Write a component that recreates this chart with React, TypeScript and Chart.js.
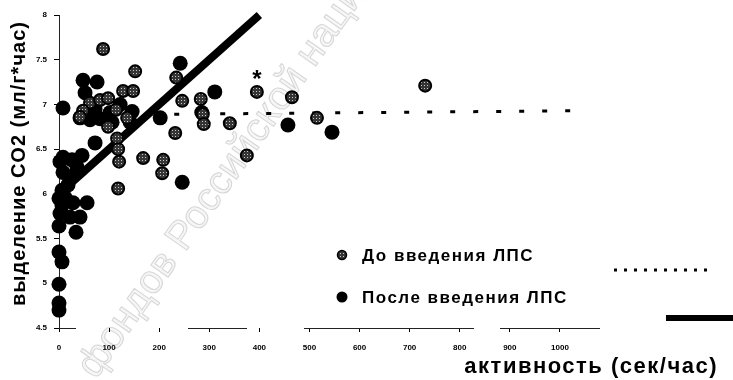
import { useEffect, useRef } from "react";
import { Chart, registerables } from "chart.js";

Chart.register(...registerables);

// Axis ticks
const xTickValues = [0, 100, 200, 300, 400, 500, 600, 700, 800, 900, 1000];
const yTickValues = [4.5, 5, 5.5, 6, 6.5, 7, 7.5, 8];

// Before LPS: activity (s/h) and CO2 release (ml/g*h)
const beforeX = [88, 152, 128, 148, 62, 82, 98, 48, 114, 136, 98, 116, 118, 120, 118, 168, 208, 206, 232, 234, 246, 283, 287, 289, 341, 395, 465, 515, 375, 731, 42];
const beforeY = [7.62, 7.37, 7.15, 7.15, 7.02, 7.05, 7.07, 6.93, 6.94, 6.85, 6.75, 6.62, 6.5, 6.36, 6.06, 6.4, 6.38, 6.23, 6.68, 7.3, 7.04, 7.06, 6.89, 6.78, 6.79, 7.14, 7.08, 6.85, 6.43, 7.21, 6.86];

// After LPS
const afterX = [8, 48, 76, 52, 42, 62, 102, 122, 202, 242, 311, 285, 457, 545, 246, 72, 46, 8, 26, 36, 22, 2, 8, 0, 12, 6, 28, 56, 2, 22, 42, 0, 34, 0, 6, 0, 0, 0, 6, 18, 146, 82, 142, 106, 72];
const afterY = [6.96, 7.27, 7.25, 7.13, 6.85, 6.83, 6.91, 7.0, 6.85, 7.46, 7.14, 6.91, 6.77, 6.69, 6.13, 6.57, 6.43, 6.41, 6.38, 6.3, 6.19, 6.36, 6.24, 5.95, 5.96, 5.87, 5.9, 5.9, 5.78, 5.74, 5.74, 5.64, 5.57, 5.35, 5.24, 4.99, 4.78, 4.7, 6.04, 6.1, 6.92, 6.84, 6.8, 6.8, 6.95];

// Trend lines
const beforeFitX = [230, 1050];
const beforeFitY = [6.89, 6.93];
const afterFitX = [0, 400];
const afterFitY = [6.0, 8.0];

// Point marked as significant
const starredIndex = 25;

const seriesNames = ["До введения ЛПС", "После введения ЛПС"];
const xTitle = "активность (сек/час)";
const yTitle = "выделение CO2 (мл/г*час)";
const stampText = "фондов Российской национальной";

const FONT = '"Liberation Sans", Arial, sans-serif';

function makeHatch(): CanvasPattern | string {
  const c = document.createElement("canvas");
  c.width = 3;
  c.height = 3;
  const g = c.getContext("2d");
  if (!g) return "#555";
  g.fillStyle = "#353535";
  g.fillRect(0, 0, 3, 3);
  g.fillStyle = "#c8c8c8";
  g.fillRect(1, 1, 1, 1);
  const p = g.createPattern(c, "repeat");
  return p || "#555";
}

export default function App() {
  const ref = useRef<HTMLCanvasElement | null>(null);

  useEffect(() => {
    const canvas = ref.current;
    if (!canvas) return;
    const hatch = makeHatch();

    const zip = (xs: number[], ys: number[]) => xs.map((x, i) => ({ x, y: ys[i] }));

    const decor = {
      id: "decor",
      beforeDraw(chart: any) {
        // faint diagonal library stamp behind the plot
        const ctx = chart.ctx as CanvasRenderingContext2D;
        ctx.save();
        ctx.translate(96, 380);
        ctx.rotate(-0.96);
        ctx.font = `40px ${FONT}`;
        ctx.textBaseline = "alphabetic";
        ctx.fillStyle = "#f6f6f6";
        ctx.fillText(stampText, 0, 0);
        ctx.strokeStyle = "#d6d6d6";
        ctx.lineWidth = 1;
        ctx.strokeText(stampText, 0, 0);
        ctx.restore();
      },
      afterDraw(chart: any) {
        const ctx = chart.ctx as CanvasRenderingContext2D;
        const area = chart.chartArea;
        ctx.save();
        ctx.fillStyle = "#000";

        // worn, partly faded x baseline
        ctx.strokeStyle = "#222";
        ctx.lineWidth = 1;
        ctx.setLineDash([17, 112, 59, 57, 170, 26, 110]);
        ctx.beginPath();
        ctx.moveTo(area.left, area.bottom + 0.5);
        ctx.lineTo(area.right, area.bottom + 0.5);
        ctx.stroke();
        ctx.setLineDash([]);

        // y title
        ctx.save();
        ctx.translate(19, (area.top + area.bottom) / 2 - 8);
        ctx.rotate(-Math.PI / 2);
        (ctx as any).letterSpacing = "1px";
        ctx.font = `bold 20px ${FONT}`;
        ctx.textAlign = "center";
        ctx.textBaseline = "middle";
        ctx.fillText(yTitle, 0, 0);
        ctx.restore();

        // x title
        (ctx as any).letterSpacing = "1.5px";
        ctx.font = `bold 22px ${FONT}`;
        ctx.textAlign = "right";
        ctx.textBaseline = "middle";
        ctx.fillText(xTitle, 718, 367);
        (ctx as any).letterSpacing = "0px";

        // asterisk over the marked point
        const meta = chart.getDatasetMeta(0);
        const pt = meta.data[starredIndex];
        if (pt) {
          ctx.font = `bold 24px ${FONT}`;
          ctx.textAlign = "center";
          ctx.textBaseline = "middle";
          ctx.fillText("*", pt.x, pt.y - 12);
        }

        // legend
        const rows = [255, 297];
        (ctx as any).letterSpacing = "1.5px";
        ctx.font = `bold 17px ${FONT}`;
        ctx.textAlign = "left";
        ctx.textBaseline = "middle";
        seriesNames.forEach((name, i) => {
          const y = rows[i];
          ctx.beginPath();
          ctx.arc(342, y, i === 0 ? 4.5 : 5.5, 0, Math.PI * 2);
          ctx.fillStyle = i === 0 ? (hatch as any) : "#000";
          ctx.fill();
          if (i === 0) {
            ctx.lineWidth = 1.5;
            ctx.strokeStyle = "#000";
            ctx.stroke();
          }
          ctx.fillStyle = "#000";
          ctx.fillText(name, 362, y + 1);
        });
        (ctx as any).letterSpacing = "0px";

        // legend line samples
        ctx.strokeStyle = "#000";
        ctx.lineWidth = 3;
        ctx.setLineDash([3, 7]);
        ctx.beginPath();
        ctx.moveTo(614, 270);
        ctx.lineTo(708, 270);
        ctx.stroke();
        ctx.setLineDash([]);
        ctx.lineWidth = 6;
        ctx.beginPath();
        ctx.moveTo(666, 318);
        ctx.lineTo(733, 318);
        ctx.stroke();
        ctx.restore();
      },
    };

    const chart = new Chart(canvas, {
      type: "scatter",
      data: {
        datasets: [
          {
            label: seriesNames[0],
            data: zip(beforeX, beforeY),
            pointRadius: 6,
            pointBackgroundColor: hatch as any,
            pointBorderColor: "#000",
            pointBorderWidth: 2,
            order: 1,
            clip: false as any,
          },
          {
            label: seriesNames[1],
            data: zip(afterX, afterY),
            pointRadius: 7.5,
            pointBackgroundColor: "#000",
            pointBorderColor: "#000",
            pointBorderWidth: 0,
            order: 2,
            clip: false as any,
          },
          {
            label: "fit-before",
            data: zip(beforeFitX, beforeFitY),
            showLine: true,
            pointRadius: 0,
            borderColor: "#000",
            borderWidth: 3,
            borderDash: [5, 18],
            order: 3,
          },
          {
            label: "fit-after",
            data: zip(afterFitX, afterFitY),
            showLine: true,
            pointRadius: 0,
            borderColor: "#000",
            borderWidth: 8,
            order: 3,
            clip: false as any,
          },
        ],
      },
      options: {
        responsive: false,
        animation: false,
        events: [],
        layout: { padding: { top: 15, right: 133, left: 0, bottom: 0 } },
        plugins: { legend: { display: false }, tooltip: { enabled: false } },
        scales: {
          x: {
            type: "linear",
            min: 0,
            max: 1080,
            afterFit(scale: any) {
              scale.height = 52;
            },
            afterBuildTicks(scale: any) {
              scale.ticks = xTickValues.map((v) => ({ value: v }));
            },
            grid: { drawOnChartArea: false, drawTicks: true, tickLength: 4, color: "#000" },
            border: { display: false },
            ticks: {
              autoSkip: false,
              maxRotation: 0,
              padding: 11,
              color: "#000",
              font: { family: FONT, size: 8, weight: "bold" },
              callback: (v: any) => String(v),
            },
          },
          y: {
            type: "linear",
            min: 4.5,
            max: 8,
            afterFit(scale: any) {
              scale.width = 59;
            },
            afterBuildTicks(scale: any) {
              scale.ticks = yTickValues.map((v) => ({ value: v }));
            },
            grid: { drawOnChartArea: false, drawTicks: true, tickLength: 5, color: "#000" },
            border: { display: true, color: "#222", width: 1 },
            ticks: {
              padding: 7,
              color: "#000",
              font: { family: FONT, size: 8, weight: "bold" },
              callback: (v: any) => String(v),
            },
          },
        },
      },
      plugins: [decor],
    });

    return () => chart.destroy();
  }, []);

  return (
    <div style={{ position: "fixed", left: 0, top: 0, width: 733, height: 380, background: "#fff" }}>
      <canvas ref={ref} width={733} height={380} style={{ display: "block" }} />
    </div>
  );
}
